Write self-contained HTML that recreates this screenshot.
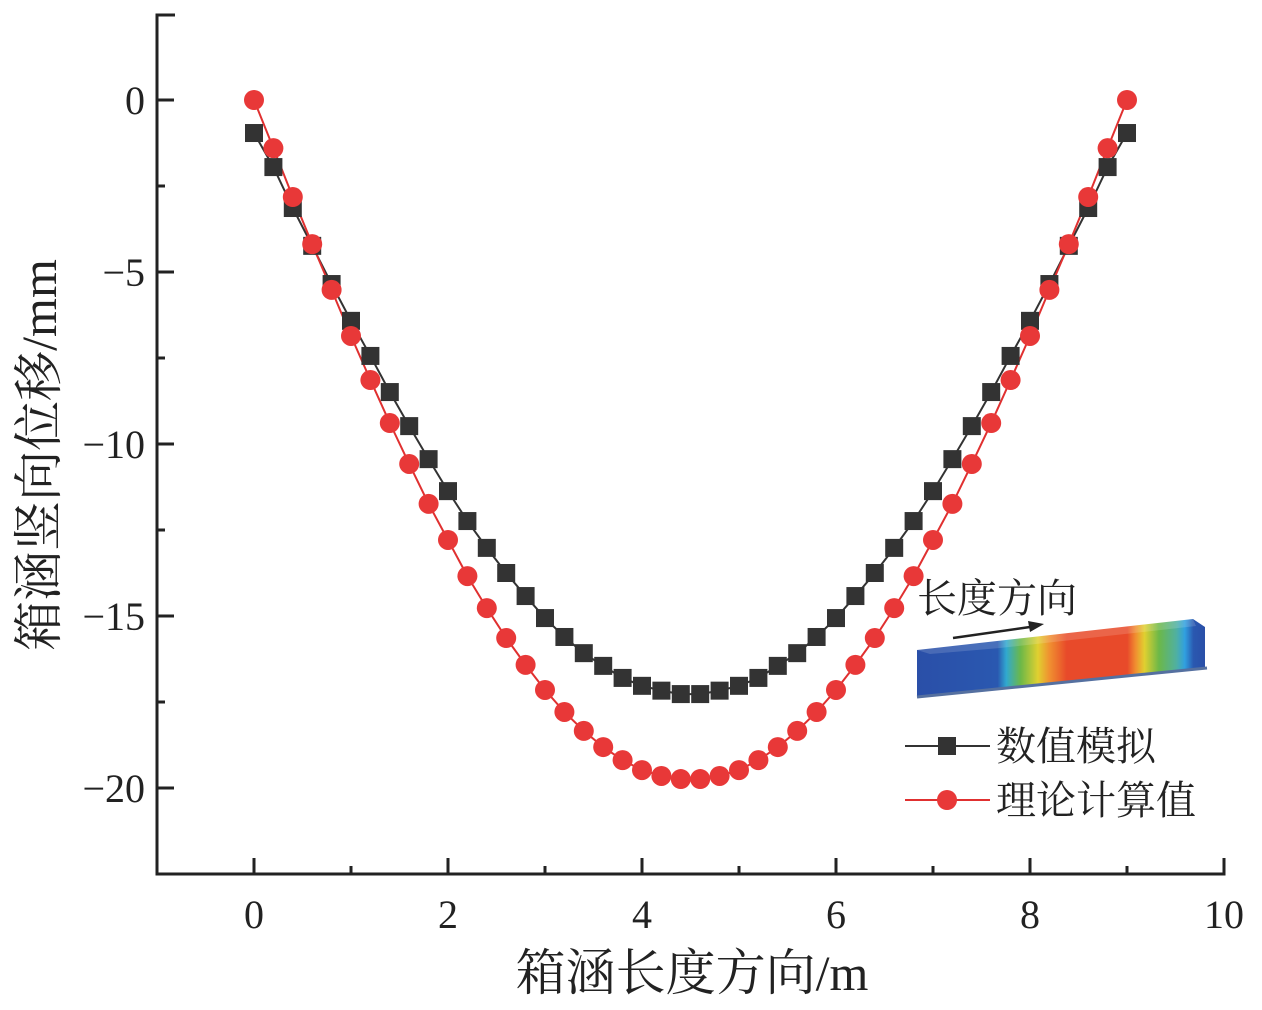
<!DOCTYPE html>
<html><head><meta charset="utf-8"><style>
body{margin:0;background:#fff}
svg text{font-family:"Liberation Serif","Noto Serif CJK SC",serif;fill:#222}
</style></head><body>
<svg id="c" width="1262" height="1005" xmlns="http://www.w3.org/2000/svg">
<defs>
<linearGradient id="bar" gradientUnits="userSpaceOnUse" x1="917" x2="1205" y1="0" y2="0">
<stop offset="0" stop-color="#2a4fa8"/><stop offset="0.28" stop-color="#2a58b0"/>
<stop offset="0.31" stop-color="#30a8d0"/><stop offset="0.36" stop-color="#6cb848"/>
<stop offset="0.42" stop-color="#e0d030"/><stop offset="0.46" stop-color="#f09030"/>
<stop offset="0.52" stop-color="#e84a2a"/><stop offset="0.73" stop-color="#e84a2a"/>
<stop offset="0.76" stop-color="#f09030"/><stop offset="0.79" stop-color="#e0d030"/>
<stop offset="0.84" stop-color="#6cb848"/><stop offset="0.9" stop-color="#50b0a0"/>
<stop offset="0.93" stop-color="#30a0e0"/><stop offset="0.96" stop-color="#2a58b0"/>
<stop offset="1" stop-color="#2a4fa8"/></linearGradient>
</defs>
<g id="axes"></g>
<g id="marks"></g>
<g>
<text x="917" y="612" font-size="40">长度方向</text>
<line x1="953" y1="638" x2="1030" y2="627" stroke="#222" stroke-width="2.5"/>
<polygon points="1044,624 1028,621 1030,632" fill="#222"/>
<polygon points="917,650 1193,619 1205,627 1205,668 917,697" fill="url(#bar)"/>
<polygon points="917,650 945,644 1193,619 1196,626 1000,648 930,654" fill="#fff" opacity="0.15"/>
<line x1="917" y1="697" x2="1207" y2="668" stroke="#5570a0" stroke-width="3"/>
</g>
<g>
<line x1="905" y1="746" x2="990" y2="746" stroke="#333" stroke-width="2"/>
<rect x="938" y="737" width="18" height="18" fill="#333"/>
<text x="996" y="760" font-size="40">数值模拟</text>
<line x1="905" y1="800" x2="990" y2="800" stroke="#e03030" stroke-width="2"/>
<circle cx="947" cy="800" r="10" fill="#e83838"/>
<text x="996" y="814" font-size="40">理论计算值</text>
</g>
</svg>
<script>
const xs=[0,0.2,0.4,0.6,0.8,1,1.2,1.4,1.6,1.8,2,2.2,2.4,2.6,2.8,3,3.2,3.4,3.6,3.8,4,4.2,4.4,4.6,4.8,5,5.2,5.4,5.6,5.8,6,6.2,6.4,6.6,6.8,7,7.2,7.4,7.6,7.8,8,8.2,8.4,8.6,8.8,9];
const sim=[-0.96,-1.95,-3.14,-4.24,-5.35,-6.42,-7.44,-8.49,-9.48,-10.44,-11.37,-12.24,-13.02,-13.75,-14.42,-15.06,-15.61,-16.08,-16.45,-16.8,-17.03,-17.17,-17.27,-17.27,-17.17,-17.03,-16.8,-16.45,-16.08,-15.61,-15.06,-14.42,-13.75,-13.02,-12.24,-11.37,-10.44,-9.48,-8.49,-7.44,-6.42,-5.35,-4.24,-3.14,-1.95,-0.96];
const theory=[0,-1.4,-2.82,-4.19,-5.52,-6.86,-8.14,-9.39,-10.58,-11.74,-12.79,-13.84,-14.77,-15.64,-16.42,-17.15,-17.79,-18.34,-18.81,-19.19,-19.48,-19.65,-19.74,-19.74,-19.65,-19.48,-19.19,-18.81,-18.34,-17.79,-17.15,-16.42,-15.64,-14.77,-13.84,-12.79,-11.74,-10.58,-9.39,-8.14,-6.86,-5.52,-4.19,-2.82,-1.4,0];
const xTicks=[0,2,4,6,8,10];
const yTicks=[0,-5,-10,-15,-20];
const NS="http://www.w3.org/2000/svg";
const X=v=>254+v*97, Y=v=>100-v*34.4;
function mk(p,t,a){const e=document.createElementNS(NS,t);for(const k in a)e.setAttribute(k,a[k]);p.appendChild(e);return e;}
const ax=document.getElementById('axes'), mg=document.getElementById('marks');
let e=mk(ax,'path',{d:'M175,15 H157 V874 H1224 V858',fill:'none',stroke:'#222','stroke-width':3});


for(let v=-1;v<=10;v++){const big=v%2===0;const l=mk(ax,'line',{x1:X(v),x2:X(v),y1:874,y2:874-(big?16:8),stroke:'#222','stroke-width':3});

}
xTicks.forEach(v=>{const t=mk(ax,'text',{x:X(v),y:928,'font-size':40,'text-anchor':'middle'});t.textContent=v;

});
for(let v=-22.5;v<=0.1;v+=2.5){const big=Math.abs(v%5)<1e-9;const l=mk(ax,'line',{x1:157,x2:157+(big?17:8),y1:Y(v),y2:Y(v),stroke:'#222','stroke-width':3});

}
yTicks.forEach(v=>{const t=mk(ax,'text',{x:145,y:Y(v)+14,'font-size':40,'text-anchor':'end'});t.textContent=v===0?'0':'\u2212'+Math.abs(v);

});
let xt=mk(ax,'text',{x:692,y:990,'font-size':50,'text-anchor':'middle'});xt.textContent='箱涵长度方向/m';


let yt=mk(ax,'text',{x:0,y:0,'font-size':50,'text-anchor':'middle',transform:'translate(56,455) rotate(-90)'});yt.textContent='箱涵竖向位移/mm';


let p1=mk(mg,'polyline',{points:xs.map((x,i)=>X(x)+','+Y(sim[i])).join(' '),fill:'none',stroke:'#333','stroke-width':2});


let p2=mk(mg,'polyline',{points:xs.map((x,i)=>X(x)+','+Y(theory[i])).join(' '),fill:'none',stroke:'#e03030','stroke-width':2});


xs.forEach((x,i)=>{const r=mk(mg,'rect',{x:X(x)-9,y:Y(sim[i])-9,width:18,height:18,fill:'#333'});

});
xs.forEach((x,i)=>{const c=mk(mg,'circle',{cx:X(x),cy:Y(theory[i]),r:10,fill:'#e83838'});

});
</script>
</body></html>
